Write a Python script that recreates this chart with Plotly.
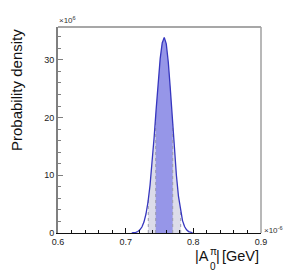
import numpy as np
import plotly.graph_objects as go

# Data
x_vals = [0.709, 0.712, 0.715, 0.718, 0.721, 0.724, 0.727, 0.730, 0.733, 0.736,
          0.739, 0.742, 0.745, 0.748, 0.751, 0.754, 0.757, 0.760, 0.763, 0.766,
          0.769, 0.772, 0.775, 0.778, 0.781, 0.784, 0.787, 0.790, 0.793, 0.796, 0.799]
density = [0.02, 0.05, 0.12, 0.26, 0.54, 1.04, 1.90, 3.29, 5.37, 8.27,
           12.02, 16.50, 21.38, 26.16, 30.21, 32.94, 33.90, 32.77, 29.59, 24.96,
           19.67, 14.48, 9.96, 6.40, 3.84, 2.15, 1.13, 0.55, 0.25, 0.11, 0.04]
band_inner = [0.7444, 0.7695]
band_outer = [0.7334, 0.7813]
x_ticks = [0.6, 0.7, 0.8, 0.9]
x_ticklabels = ["0.6", "0.7", "0.8", "0.9"]
y_ticks = [0, 10, 20, 30]
y_ticklabels = ["0", "10", "20", "30"]

FONT = "Liberation Sans, Arial, Helvetica, sans-serif"


def band(lo, hi):
    xs = [lo] + [x for x in x_vals if lo < x < hi] + [hi]
    ys = np.interp(xs, x_vals, density)
    return xs, list(ys)


fig = go.Figure()

xo, yo = band(*band_outer)
fig.add_trace(go.Scatter(x=xo, y=yo, mode="lines", line=dict(width=0),
                         fill="tozeroy", fillcolor="#dcdce9", hoverinfo="skip"))
xi, yi = band(*band_inner)
fig.add_trace(go.Scatter(x=xi, y=yi, mode="lines", line=dict(width=0),
                         fill="tozeroy", fillcolor="#9696e8", hoverinfo="skip"))

for xe in band_outer + band_inner:
    ye = float(np.interp(xe, x_vals, density))
    fig.add_trace(go.Scatter(x=[xe, xe], y=[0, ye], mode="lines",
                             line=dict(color="#9a9aae", width=1, dash="dot"),
                             hoverinfo="skip"))

fig.add_trace(go.Scatter(x=x_vals, y=density, mode="lines",
                         line=dict(color="#3636bf", width=1.3), hoverinfo="skip"))

fig.update_layout(
    width=290, height=275,
    margin=dict(l=58, r=29, t=27, b=42),
    paper_bgcolor="white", plot_bgcolor="white",
    showlegend=False,
    font=dict(family=FONT, color="#222222"),
    xaxis=dict(range=[0.6, 0.9], tickvals=x_ticks, ticktext=x_ticklabels,
               ticks="inside", ticklen=5, tickcolor="#111111", tickwidth=1,
               showline=True, linecolor="#111111", linewidth=1,
               showgrid=False, zeroline=False,
               minor=dict(dtick=0.02, tick0=0.6, ticks="inside", ticklen=3,
                          tickcolor="#111111", showgrid=False),
               tickfont=dict(size=9, family=FONT, color="#222222")),
    yaxis=dict(range=[0, 35.7], tickvals=y_ticks, ticktext=y_ticklabels,
               ticks="inside", ticklen=5, tickcolor="#808080", tickwidth=1,
               showline=True, linecolor="#808080", linewidth=2,
               showgrid=False, zeroline=False,
               minor=dict(dtick=2, tick0=0, ticks="inside", ticklen=3,
                          tickcolor="#808080", showgrid=False),
               tickfont=dict(size=9, family=FONT, color="#222222")),
    shapes=[
        dict(type="line", xref="paper", yref="paper", x0=0, x1=1, y0=1, y1=1,
             line=dict(color="#8a8a8a", width=1.3)),
        dict(type="line", xref="paper", yref="paper", x0=1, x1=1, y0=0, y1=1,
             line=dict(color="#a0a0a0", width=1.5)),
    ],
)


def px_x(p):
    return (p - 58) / 203.0


def px_y(p):
    return (233 - p) / 206.0


ann = []
ann.append(dict(text="×10<sup>6</sup>", xref="paper", yref="paper", x=-0.003, y=1.0,
                xanchor="left", yanchor="bottom", showarrow=False,
                font=dict(size=8, family=FONT, color="#333333")))
ann.append(dict(text="×10<sup>-6</sup>", xref="paper", yref="paper", x=1.005, y=0.015,
                xanchor="left", yanchor="middle", showarrow=False,
                font=dict(size=8, family=FONT, color="#333333")))
ann.append(dict(text="Probability density", xref="paper", yref="paper",
                x=px_x(16), y=1.0, xanchor="center", yanchor="top", textangle=-90,
                showarrow=False, font=dict(size=15, family=FONT, color="#111111")))
ann.append(dict(text="[GeV]", xref="paper", yref="paper", x=px_x(261), y=px_y(256),
                xanchor="right", yanchor="middle", showarrow=False,
                font=dict(size=14.5, family=FONT, color="#111111")))
ann.append(dict(text="|", xref="paper", yref="paper", x=px_x(218), y=px_y(256),
                xanchor="center", yanchor="middle", showarrow=False,
                font=dict(size=14.5, family=FONT, color="#111111")))
ann.append(dict(text="|A", xref="paper", yref="paper", x=px_x(210.5), y=px_y(256),
                xanchor="right", yanchor="middle", showarrow=False,
                font=dict(size=14.5, family=FONT, color="#111111")))
ann.append(dict(text="π", xref="paper", yref="paper", x=px_x(213.7), y=px_y(251),
                xanchor="center", yanchor="middle", showarrow=False,
                font=dict(size=10, family=FONT, color="#111111")))
ann.append(dict(text="0", xref="paper", yref="paper", x=px_x(213.2), y=px_y(266.5),
                xanchor="center", yanchor="middle", showarrow=False,
                font=dict(size=10, family=FONT, color="#111111")))
fig.update_layout(annotations=ann)

fig.write_html("out.html", config={"displayModeBar": False},
               post_script="document.body.style.margin='0';document.body.style.padding='0';")
